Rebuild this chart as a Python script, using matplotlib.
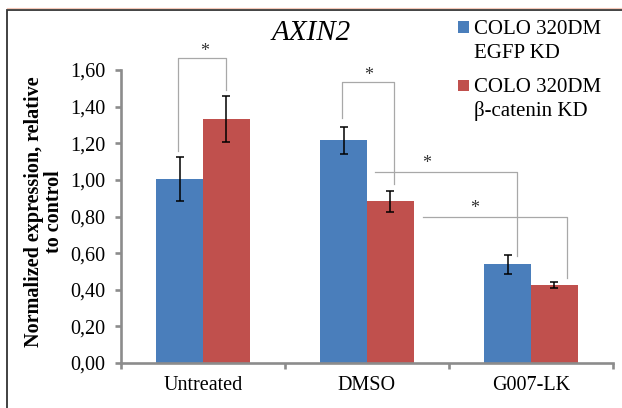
import matplotlib
matplotlib.use("Agg")
import matplotlib.pyplot as plt
from matplotlib.patches import Rectangle
from matplotlib.lines import Line2D
import numpy as np

plt.rcParams['font.family'] = ['Liberation Serif', 'DejaVu Serif']

categories = ["Untreated", "DMSO", "G007-LK"]
egfp = [1.005, 1.216, 0.540]
egfp_err = [0.120, 0.073, 0.052]
bcat = [1.331, 0.882, 0.426]
bcat_err = [0.125, 0.057, 0.018]
series_labels = [["COLO 320DM", "EGFP KD"], ["COLO 320DM", "\u03b2-catenin KD"]]
yticks = [0.0, 0.2, 0.4, 0.6, 0.8, 1.0, 1.2, 1.4, 1.6]
ytick_labels = ["0,00", "0,20", "0,40", "0,60", "0,80", "1,00", "1,20", "1,40", "1,60"]

blue = "#4A7EBB"
red = "#C0504D"
grey = "#8C8C8C"

W, H = 622, 408
fig = plt.figure(figsize=(W / 100, H / 100), dpi=100)
ax = fig.add_axes([121 / W, 1 - 363 / H, 492 / W, 293 / H])

x = np.arange(len(categories))
bw = 1 / 3.5
ax.bar(x - bw / 2, egfp, bw, color=blue, edgecolor="none", zorder=2)
ax.bar(x + bw / 2, bcat, bw, color=red, edgecolor="none", zorder=2)
ekw = dict(fmt="none", ecolor="black", elinewidth=1.1, capsize=2.7, capthick=1.1, zorder=3)
ax.errorbar(x - bw / 2, egfp, yerr=egfp_err, **ekw)
ax.errorbar(x + bw / 2, bcat, yerr=bcat_err, **ekw)

ax.set_xlim(-0.5, 2.5)
ax.set_ylim(0, 1.6)

# significance brackets (data coordinates)
bk = dict(color="#A8A8A8", lw=0.9, clip_on=False, zorder=1)
brackets = [
    ([-0.150, -0.150, 0.140, 0.140], [1.155, 1.666, 1.666, 1.492], (0.01, 1.70)),
    ([0.848, 0.848, 1.163, 1.163], [1.337, 1.532, 1.532, 0.976], (1.012, 1.568)),
    ([1.049, 1.916, 1.916], [1.044, 1.044, 0.585], (1.361, 1.087)),
    ([1.344, 2.219, 2.219], [0.800, 0.800, 0.464], (1.659, 0.842)),
]
for bx, by, (sx, sy) in brackets:
    ax.add_line(Line2D(bx, by, **bk))
    ax.text(sx, sy, "*", ha="center", va="center", fontsize=13, color="#333333", clip_on=False)

for s in ["top", "right"]:
    ax.spines[s].set_visible(False)
for s in ["left", "bottom"]:
    ax.spines[s].set_color(grey)
    ax.spines[s].set_linewidth(1.9)

ax.set_yticks(yticks)
ax.set_yticklabels(ytick_labels, fontsize=14.5)
ax.tick_params(axis="y", direction="out", length=4, width=1.9, color=grey, pad=7)

ax.set_xticks([-0.5, 0.5, 1.5, 2.5])
ax.set_xticklabels([])
ax.tick_params(axis="x", which="major", direction="out", length=4.5, width=1.9, color=grey)
ax.set_xticks(x, minor=True)
ax.set_xticklabels(categories, minor=True, fontsize=14.5)
ax.tick_params(axis="x", which="minor", length=0, pad=9)

fig.text(44 / W, 1 - 212 / H, "Normalized expression, relative\nto control", rotation=90,
         ha="center", va="center", fontsize=14.5, fontweight="bold", linespacing=1.05)

fig.text(311 / W, 1 - 33 / H, "AXIN2", ha="center", va="center", fontsize=21, style="italic")

# legend (manual: square aligned with the first text line)
leg_colors = [blue, red]
leg_first = [27, 85]
for col, lines, y0 in zip(leg_colors, series_labels, leg_first):
    fig.patches.append(Rectangle((458 / W, 1 - (y0 + 5.5) / H), 11 / W, 11 / H,
                                 transform=fig.transFigure, facecolor=col, edgecolor="none"))
    for i, t in enumerate(lines):
        fig.text(474 / W, 1 - (y0 + 7 + i * 24) / H, t, ha="left", va="baseline", fontsize=15)

# outer frame
fig.patches.append(Rectangle((7 / W, -0.05), 1.0, 1 - 10 / H + 0.05, transform=fig.transFigure,
                             fill=False, edgecolor="#333333", lw=1.3))
fig.add_artist(Line2D([7 / W, 1], [1 - 8 / H, 1 - 8 / H], transform=fig.transFigure,
                      color="#F5C8B8", lw=0.8))

fig.savefig("out.png", dpi=100)
